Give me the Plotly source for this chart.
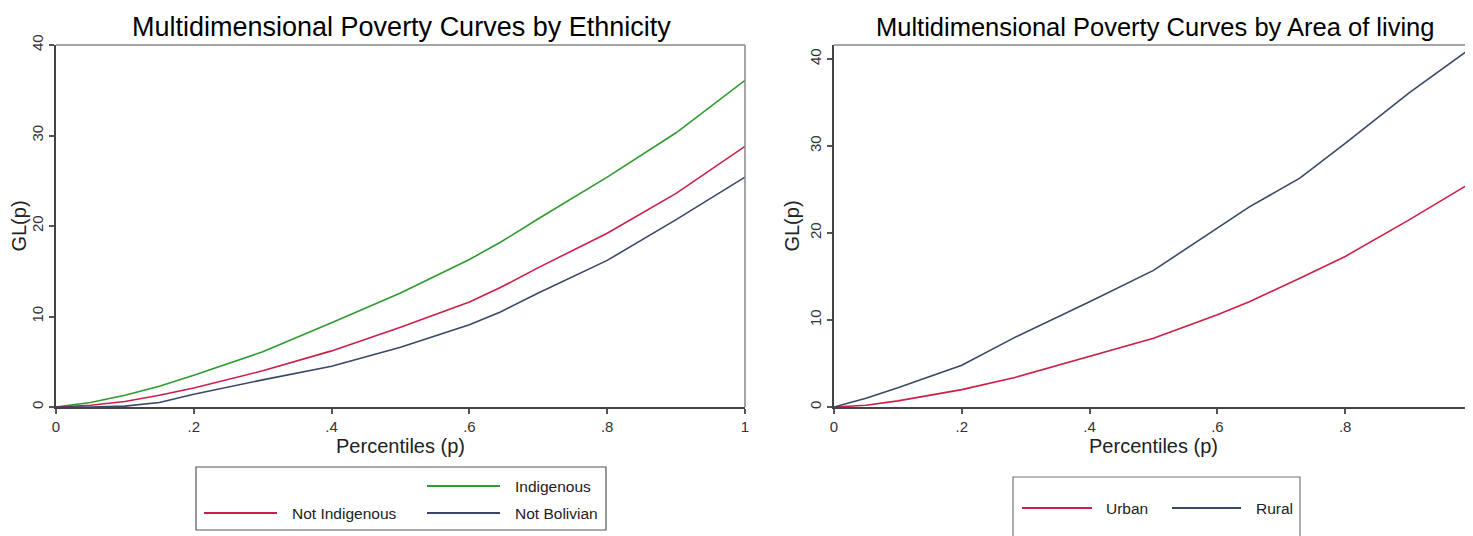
import plotly.graph_objects as go
from plotly.subplots import make_subplots

# ---- data ----
p_eth = [0, 0.05, 0.1, 0.15, 0.2, 0.3, 0.4, 0.5, 0.6, 0.645, 0.7, 0.8, 0.9, 1.0]
indigenous     = [0, 0.5, 1.3, 2.3, 3.5, 6.1, 9.3, 12.6, 16.3, 18.2, 20.8, 25.4, 30.3, 36.1]
not_indigenous = [0, 0.2, 0.6, 1.3, 2.1, 4.0, 6.2, 8.8, 11.6, 13.2, 15.4, 19.2, 23.6, 28.8]
not_bolivian   = [0, 0.0, 0.1, 0.5, 1.4, 3.0, 4.5, 6.6, 9.1, 10.5, 12.6, 16.2, 20.7, 25.4]

p_area = [0, 0.05, 0.1, 0.2, 0.283, 0.4, 0.5, 0.6, 0.65, 0.729, 0.8, 0.9, 1.0]
urban = [0, 0.2, 0.7, 2.0, 3.4, 5.8, 7.9, 10.6, 12.1, 14.8, 17.3, 21.5, 25.9]
rural = [0, 1.0, 2.2, 4.8, 8.0, 12.1, 15.7, 20.6, 23.0, 26.3, 30.3, 36.1, 41.4]

x_ticks = [0, 0.2, 0.4, 0.6, 0.8, 1.0]
x_tick_labels = ["0", ".2", ".4", ".6", ".8", "1"]
y_ticks = [0, 10, 20, 30, 40]
y_tick_labels = ["0", "10", "20", "30", "40"]

titles = ["Multidimensional Poverty Curves by Ethnicity",
          "Multidimensional Poverty Curves by Area of living"]
x_title = "Percentiles (p)"
y_title = "GL(p)"

GREEN = "#2f9a2f"
RED = "#cc1f47"
NAVY = "#3a4768"

W, H = 1473, 536
OFF = 8  # page body margin
FONT = "Arial, Liberation Sans, sans-serif"


def fx(x):
    return (x - OFF) / W


def fy(y):
    return 1 - (y - OFF) / H


fig = make_subplots(rows=1, cols=2)

series_left = [("Indigenous", indigenous, GREEN),
               ("Not Indigenous", not_indigenous, RED),
               ("Not Bolivian", not_bolivian, NAVY)]
for name, vals, col in series_left:
    fig.add_trace(go.Scatter(x=p_eth, y=vals, mode="lines", name=name,
                             line=dict(color=col, width=1.6), showlegend=False),
                  row=1, col=1)

series_right = [("Urban", urban, RED), ("Rural", rural, NAVY)]
for name, vals, col in series_right:
    fig.add_trace(go.Scatter(x=p_area, y=vals, mode="lines", name=name,
                             line=dict(color=col, width=1.6), showlegend=False),
                  row=1, col=2)

axis_common = dict(showgrid=False, zeroline=False, showline=True, linecolor="#444",
                   linewidth=2, ticks="outside", ticklen=5, tickwidth=1.5, automargin=False,
                   tickcolor="#555", tickfont=dict(family=FONT, size=15, color="#333"))

fig.update_xaxes(**axis_common, range=[0, 1], tickvals=x_ticks, ticktext=x_tick_labels,
                 title=dict(text=x_title, font=dict(family=FONT, size=20, color="#222"), standoff=0))
fig.update_yaxes(**axis_common, tickvals=y_ticks, ticktext=y_tick_labels, tickangle=-90,
                 title=dict(text=y_title, font=dict(family=FONT, size=20, color="#222"), standoff=2))

fig.update_xaxes(domain=[fx(56), fx(745)], row=1, col=1)
fig.update_xaxes(domain=[fx(834), fx(1473)], row=1, col=2)
fig.update_yaxes(domain=[fy(407), fy(45)], range=[0, 40], row=1, col=1)
fig.update_yaxes(domain=[fy(407), fy(45)], range=[0, 41.6], row=1, col=2)

shapes = []
# plot frames (top/right lighter)
for xr, yr in [("x domain", "y domain"), ("x2 domain", "y2 domain")]:
    shapes.append(dict(type="line", xref=xr, yref=yr, x0=0, x1=1, y0=1, y1=1,
                       line=dict(color="#888", width=1.5)))
    shapes.append(dict(type="line", xref=xr, yref=yr, x0=1, x1=1, y0=0, y1=1,
                       line=dict(color="#888", width=1.5)))

annotations = []
# titles
annotations.append(dict(text=titles[0], x=fx(401), y=fy(27), xref="paper", yref="paper",
                        xanchor="center", yanchor="middle",
                        showarrow=False, font=dict(family=FONT, size=27, color="#000")))
annotations.append(dict(text=titles[1], x=fx(1155), y=fy(27), xref="paper", yref="paper",
                        xanchor="center", yanchor="middle",
                        showarrow=False, font=dict(family=FONT, size=25.5, color="#000")))

# legend boxes
shapes.append(dict(type="rect", xref="paper", yref="paper", x0=fx(196), x1=fx(606),
                   y0=fy(530), y1=fy(467), line=dict(color="#555", width=1.2)))
shapes.append(dict(type="rect", xref="paper", yref="paper", x0=fx(1013), x1=fx(1300),
                   y0=fy(545), y1=fy(477), line=dict(color="#777", width=1.2)))

legend_items = [
    (series_left[0][0], GREEN, 427, 500, 486, 513),
    (series_left[1][0], RED, 204, 277, 513, 290),
    (series_left[2][0], NAVY, 427, 500, 513, 513),
    (series_right[0][0], RED, 1022, 1092, 508, 1104),
    (series_right[1][0], NAVY, 1172, 1241, 508, 1254),
]
for name, col, x0, x1, y, tx in legend_items:
    shapes.append(dict(type="line", xref="paper", yref="paper", x0=fx(x0), x1=fx(x1),
                       y0=fy(y), y1=fy(y), line=dict(color=col, width=1.8)))
    annotations.append(dict(text=name, x=fx(tx), y=fy(y), xref="paper", yref="paper",
                            xanchor="left", yanchor="middle", showarrow=False,
                            font=dict(family=FONT, size=15.5, color="#222")))

fig.update_layout(width=W, height=H, margin=dict(l=0, r=0, t=0, b=0),
                  plot_bgcolor="white", paper_bgcolor="white",
                  shapes=shapes, annotations=annotations, showlegend=False)

fig.write_html("out.html")
